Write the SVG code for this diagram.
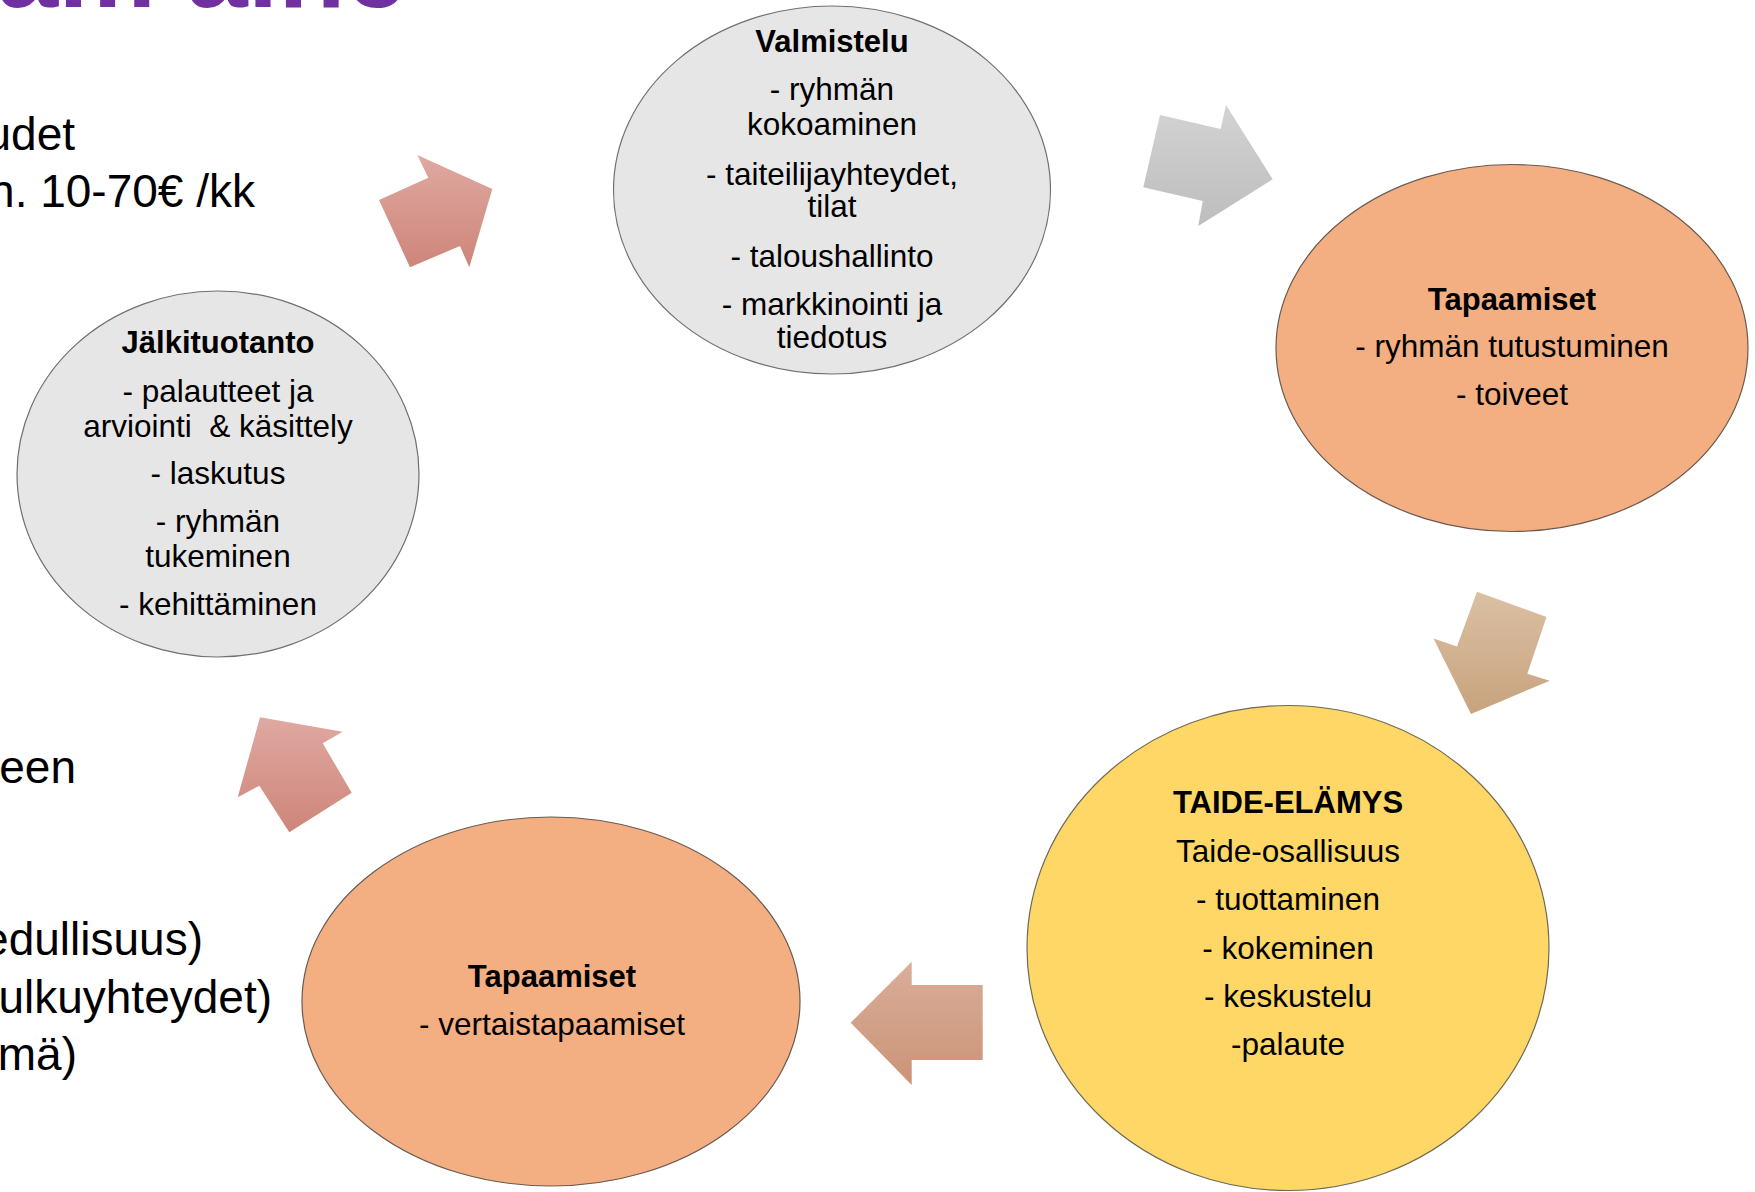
<svg xmlns="http://www.w3.org/2000/svg" width="1755" height="1192" viewBox="0 0 1755 1192">
<style>
.t{font-family:"Liberation Sans",Arial,sans-serif;font-size:31.5px;fill:#000;text-anchor:middle}
.b{font-weight:bold;font-size:31px}
.side{font-family:"Liberation Sans",Arial,sans-serif;font-size:46px;fill:#000;text-anchor:end}
.title{font-family:"Liberation Sans",Arial,sans-serif;font-size:110px;font-weight:bold;fill:#7030A0}
.gray{fill:#E6E6E6;stroke:#707070;stroke-width:1.2}
.orange{fill:#F3AF82;stroke:#6a5a50;stroke-width:1.2}
.yellow{fill:#FED766;stroke:#6f6a55;stroke-width:1.2}
</style>
<defs>
<linearGradient id="gPink" x1="0" y1="0" x2="0" y2="1"><stop offset="0" stop-color="#DFA9A1"/><stop offset="1" stop-color="#CE857A"/></linearGradient>
<linearGradient id="gGray" x1="0" y1="0" x2="0" y2="1"><stop offset="0" stop-color="#D3D3D3"/><stop offset="1" stop-color="#BDBDBD"/></linearGradient>
<linearGradient id="gTan" x1="0" y1="0" x2="0" y2="1"><stop offset="0" stop-color="#DAC0A4"/><stop offset="1" stop-color="#C8A37D"/></linearGradient>
<linearGradient id="gBrown" x1="0" y1="0" x2="0" y2="1"><stop offset="0" stop-color="#D9AE99"/><stop offset="1" stop-color="#CB9377"/></linearGradient>
</defs>
<rect width="1755" height="1192" fill="#fff"/>

<g id="background-text">
<text class="title" x="-3" y="6.5">am aihe</text>
<text class="side" x="75" y="150">udet</text>
<text class="side" x="255" y="207">n. 10-70€ /kk</text>
<text class="side" x="76" y="783">een</text>
<text class="side" x="203" y="955">edullisuus)</text>
<text class="side" x="272" y="1013">ulkuyhteydet)</text>
<text class="side" x="77" y="1070">mä)</text>
</g>

<g id="connectors">
<polygon fill="url(#gGray)" points="1160,115 1220.7,129 1226,105 1272.7,179.3 1198.3,226 1202.7,201 1143.3,187.3"/>
<polygon fill="url(#gTan)" points="1477,591.7 1546.5,617 1527.3,673.7 1549.8,680.7 1471,713.9 1433.5,638.5 1457,646.4"/>
<polygon fill="url(#gBrown)" points="911.7,961.7 911.7,985 982.7,985 982.7,1060 911.7,1060 911.7,1085 850.7,1022.7"/>
<polygon fill="url(#gPink)" points="237.7,797.3 260,717.3 342.7,731.7 322.7,743.3 351.7,792.7 289.3,832.3 259.3,785.7"/>
<polygon fill="url(#gPink)" points="379,200 428.3,177.7 417.3,155 492.3,189 469.3,267.3 460,246 410,267.3"/>
</g>

<g id="node-valmistelu">
<ellipse class="gray" cx="832" cy="190" rx="218.5" ry="184"/>
<text class="t b" x="832" y="52">Valmistelu</text>
<text class="t" x="832" y="100">- ryhmän</text>
<text class="t" x="832" y="135">kokoaminen</text>
<text class="t" x="832" y="185">- taiteilijayhteydet,</text>
<text class="t" x="832" y="217">tilat</text>
<text class="t" x="832" y="267">- taloushallinto</text>
<text class="t" x="832" y="315">- markkinointi ja</text>
<text class="t" x="832" y="348">tiedotus</text>
</g>

<g id="node-tapaamiset-1">
<ellipse class="orange" cx="1512" cy="348" rx="236" ry="183.5"/>
<text class="t b" x="1512" y="310">Tapaamiset</text>
<text class="t" x="1512" y="357">- ryhmän tutustuminen</text>
<text class="t" x="1512" y="405">- toiveet</text>
</g>

<g id="node-taide-elamys">
<ellipse class="yellow" cx="1288" cy="948" rx="261" ry="242.5"/>
<text class="t b" x="1288" y="813">TAIDE-ELÄMYS</text>
<text class="t" x="1288" y="862">Taide-osallisuus</text>
<text class="t" x="1288" y="910">- tuottaminen</text>
<text class="t" x="1288" y="959">- kokeminen</text>
<text class="t" x="1288" y="1007">- keskustelu</text>
<text class="t" x="1288" y="1055">-palaute</text>
</g>

<g id="node-tapaamiset-2">
<ellipse class="orange" cx="551" cy="1001.5" rx="249" ry="184.5"/>
<text class="t b" x="552" y="987">Tapaamiset</text>
<text class="t" x="552" y="1035">- vertaistapaamiset</text>
</g>

<g id="node-jalkituotanto">
<ellipse class="gray" cx="218" cy="474" rx="201" ry="183"/>
<text class="t b" x="218" y="353">Jälkituotanto</text>
<text class="t" x="218" y="402">- palautteet ja</text>
<text class="t" x="218" y="437" xml:space="preserve">arviointi  &amp; käsittely</text>
<text class="t" x="218" y="484">- laskutus</text>
<text class="t" x="218" y="532">- ryhmän</text>
<text class="t" x="218" y="567">tukeminen</text>
<text class="t" x="218" y="615">- kehittäminen</text>
</g>
</svg>
